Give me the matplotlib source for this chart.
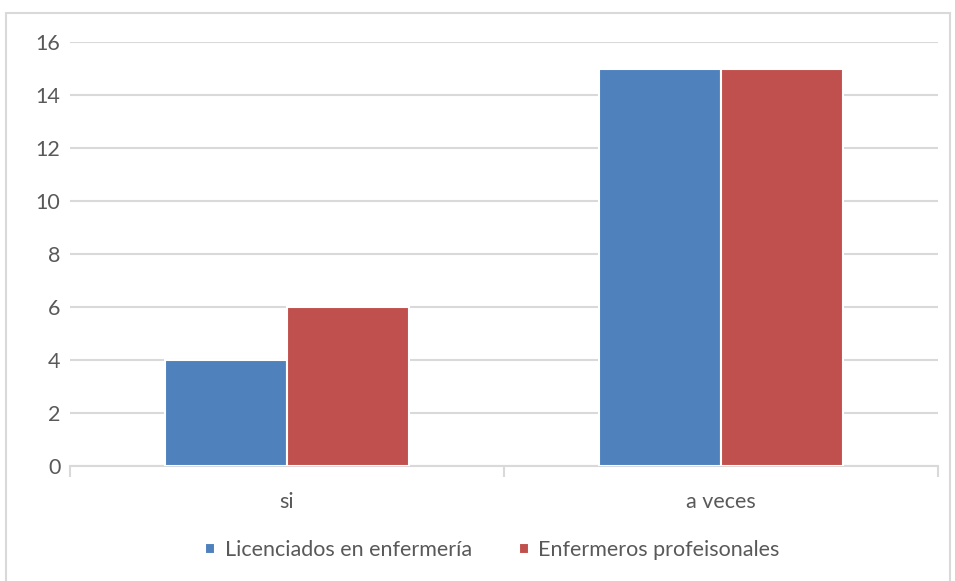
import numpy as np
import matplotlib.pyplot as plt
from matplotlib.patches import Rectangle

categories = ["si", "a veces"]
licenciados = [4, 15]
enfermeros = [6, 15]
series_names = ["Licenciados en enfermería", "Enfermeros profeisonales"]
colors = ["#4F81BD", "#C0504D"]

plt.rcParams['font.family'] = ['Lato', 'DejaVu Sans']
txt = "#595959"
grid = "#D9D9D9"
fs = 15.5

fig = plt.figure(figsize=(9.55, 5.81), dpi=100)
fig.patches.append(Rectangle((6 / 955, -0.01), 944 / 955, 1 - 13 / 581 + 0.01,
                             transform=fig.transFigure, fill=False,
                             edgecolor=grid, linewidth=1.5))

ax = fig.add_axes([70 / 955, 115 / 581, 868 / 955, 424 / 581])
x = np.arange(len(categories))
w = 0.282
b1 = ax.bar(x - w / 2, licenciados, w, color=colors[0], edgecolor="white",
            linewidth=1.5, label=series_names[0], zorder=3)
b2 = ax.bar(x + w / 2, enfermeros, w, color=colors[1], edgecolor="white",
            linewidth=1.5, label=series_names[1], zorder=3)

ax.set_xlim(-0.5, 1.5)
ax.set_ylim(0, 16)
ax.set_yticks(range(0, 17, 2))
ax.yaxis.grid(True, color=grid, linewidth=1.5, zorder=0)
ax.set_axisbelow(True)
for s in ["top", "right", "left"]:
    ax.spines[s].set_visible(False)
ax.spines["bottom"].set_color(grid)
ax.spines["bottom"].set_linewidth(1.5)

ax.set_xticks(x)
ax.set_xticklabels(categories)
ax.set_xticks([-0.5, 0.5, 1.5], minor=True)
ax.tick_params(axis="x", which="major", length=0, pad=19, labelsize=fs, labelcolor=txt)
ax.tick_params(axis="x", which="minor", length=8, width=1.5, color=grid)
ax.tick_params(axis="y", length=0, pad=7, labelsize=fs, labelcolor=txt)

leg = fig.legend(handles=[b1, b2], loc="center",
                 bbox_to_anchor=(0.5 + 15 / 955, 1 - 550 / 581),
                 ncol=2, frameon=False, fontsize=fs, handlelength=0.45,
                 handleheight=0.45, handletextpad=0.45, columnspacing=2.2)
for t in leg.get_texts():
    t.set_color(txt)

fig.savefig("out.png", dpi=100)
